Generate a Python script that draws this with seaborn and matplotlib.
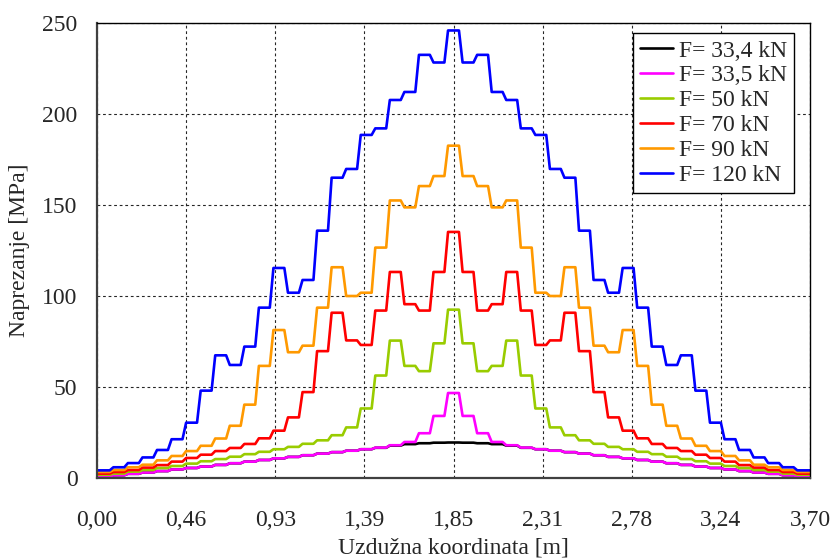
import numpy as np
import pandas as pd
import matplotlib
matplotlib.use("Agg")
import matplotlib.pyplot as plt
import seaborn as sns

# beam length and number of elements
L = 3.70
n_el = 49

labels = ["F= 33,4 kN", "F= 33,5 kN", "F= 50 kN", "F= 70 kN", "F= 90 kN", "F= 120 kN"]
colors = ["#000000", "#ff00ff", "#99cc00", "#ff0000", "#ff9900", "#0000ff"]

# stress per element [MPa]
s_334 = [0.7, 1.5, 2.3, 3.0, 3.8, 4.7, 5.5, 6.3, 7.2, 8.1, 9.0, 9.9, 10.8, 11.6, 12.5, 13.4, 14.2,
         15.0, 15.8, 16.6, 17.8, 18.6, 19.1, 19.4, 19.5,
         19.4, 19.1, 18.6, 17.8, 16.6, 15.8, 15.0, 14.2, 13.4, 12.5, 11.6, 10.8, 9.9, 9.0, 8.1, 7.2,
         6.3, 5.5, 4.7, 3.8, 3.0, 2.3, 1.5, 0.7]
s_335 = [0.7, 1.5, 2.3, 3.0, 3.8, 4.7, 5.5, 6.3, 7.2, 8.1, 9.0, 9.9, 10.8, 11.6, 12.5, 13.4, 14.2,
         15.0, 15.8, 16.7, 18.0, 19.8, 24.6, 34.1, 46.7,
         34.1, 24.6, 19.8, 18.0, 16.7, 15.8, 15.0, 14.2, 13.4, 12.5, 11.6, 10.8, 9.9, 9.0, 8.1, 7.2,
         6.3, 5.5, 4.7, 3.8, 3.0, 2.3, 1.5, 0.7]
s_50 = [1.8, 2.4, 3.5, 4.4, 5.5, 6.6, 7.9, 9.2, 10.4, 11.7, 13.1, 14.4, 15.8, 17.1, 18.8, 20.7, 23.5,
        27.8, 38.2, 56.3, 75.5, 61.6, 58.7, 74.0, 92.5,
        74.0, 58.7, 61.6, 75.5, 56.3, 38.2, 27.8, 23.5, 20.7, 18.8, 17.1, 15.8, 14.4, 13.1, 11.7, 10.4,
        9.2, 7.9, 6.6, 5.5, 4.4, 3.5, 2.4, 1.8]
s_70 = [2.4, 3.3, 4.4, 5.7, 7.1, 9.0, 11.0, 12.8, 14.8, 16.5, 18.7, 21.8, 26.0, 33.3, 47.2, 69.7, 90.8,
        75.6, 73.1, 92.0, 113.2, 95.5, 92.0, 113.2, 135.2,
        113.2, 92.0, 95.5, 113.2, 92.0, 73.1, 75.6, 90.8, 69.7, 47.2, 33.3, 26.0, 21.8, 18.7, 16.5, 14.8,
        12.8, 11.0, 9.0, 7.1, 5.7, 4.4, 3.3, 2.4]
s_90 = [3.3, 4.4, 5.9, 7.3, 9.7, 12.1, 14.8, 17.7, 21.7, 28.7, 40.3, 61.6, 81.3, 69.1, 72.7, 93.6, 115.8,
        100.0, 101.8, 126.6, 152.5, 148.7, 160.4, 165.9, 182.6,
        165.9, 160.4, 148.7, 152.5, 126.6, 101.8, 100.0, 115.8, 93.6, 72.7, 69.1, 81.3, 61.6, 40.3, 28.7,
        21.7, 17.7, 14.8, 12.1, 9.7, 7.3, 5.9, 4.4, 3.3]
s_120 = [4.2, 5.9, 8.2, 11.3, 15.4, 21.3, 30.4, 48.0, 67.4, 62.1, 72.2, 93.6, 115.4, 101.8, 108.8, 135.9,
         165.0, 169.8, 188.5, 192.1, 207.7, 212.1, 232.5, 228.3, 245.9,
         228.3, 232.5, 212.1, 207.7, 192.1, 188.5, 169.8, 165.0, 135.9, 108.8, 101.8, 115.4, 93.6, 72.2,
         62.1, 67.4, 48.0, 30.4, 21.3, 15.4, 11.3, 8.2, 5.9, 4.2]

xtick_labels = ["0,00", "0,46", "0,93", "1,39", "1,85", "2,31", "2,78", "3,24", "3,70"]

# each element: flat part, short ramp to the next one
w = L / n_el
rows = []
for lab, vals in zip(labels, [s_334, s_335, s_50, s_70, s_90, s_120]):
    for k, v in enumerate(vals):
        xa = 0.0 if k == 0 else k * w + w / 8
        xb = L if k == n_el - 1 else (k + 1) * w - w / 8
        rows.append((lab, k, xa, v))
        rows.append((lab, k, xb, v))
df = pd.DataFrame(rows, columns=["F", "el", "x", "s"])

sns.set_style("white")
plt.rcParams["font.family"] = ["Liberation Serif", "DejaVu Serif"]

fig = plt.figure(figsize=(8.35, 5.6), dpi=100)
ax = fig.add_axes([97 / 835, 1 - 478 / 560, 713 / 835, 455 / 560])

sns.lineplot(data=df, x="x", y="s", hue="F", hue_order=labels, palette=colors,
             estimator=None, sort=False, lw=1.9, ax=ax)

ax.set_xlim(0, L)
ax.set_ylim(0, 250)
ax.set_xticks(np.linspace(0, L, 9))
ax.set_xticklabels(xtick_labels)
ax.set_yticks([0, 50, 100, 150, 200, 250])
ax.tick_params(axis="x", length=0, pad=23, labelsize=17)
ax.tick_params(axis="y", direction="in", length=4, pad=14, labelsize=17)
ax.grid(True, color="0.15", linestyle=(0, (2.5, 2.5)), linewidth=0.8)

for side in ["top", "right"]:
    ax.spines[side].set_color("black")
    ax.spines[side].set_linewidth(1.0)
for side in ["left", "bottom"]:
    ax.spines[side].set_color("0.25")
    ax.spines[side].set_linewidth(1.6)

ax.set_xlabel("Uzdužna koordinata [m]", fontsize=17)
ax.set_ylabel("Naprezanje [MPa]", fontsize=17)
ax.xaxis.set_label_coords(0.5, -0.13)
ax.yaxis.set_label_coords(-0.094, 0.5)

leg = ax.legend(loc="upper right", bbox_to_anchor=(0.978, 0.978), borderaxespad=0,
                fontsize=17, frameon=True, fancybox=False, framealpha=1,
                handlelength=1.4, handletextpad=0.25, borderpad=0.3, labelspacing=0.14)
leg.get_frame().set_edgecolor("black")
leg.get_frame().set_linewidth(1.0)

fig.savefig("out.png", dpi=100)
